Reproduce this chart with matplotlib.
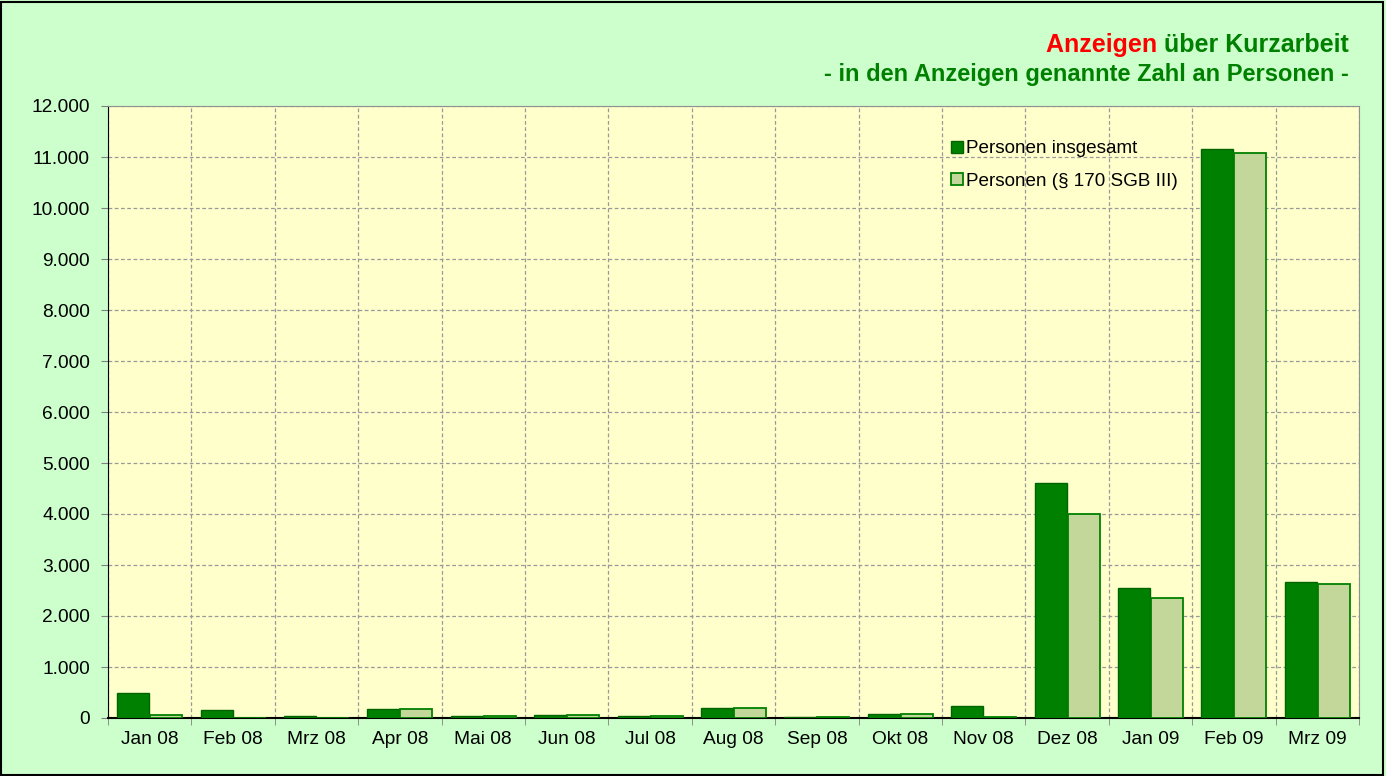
import numpy as np
import matplotlib
matplotlib.use("Agg")
import matplotlib.pyplot as plt
from matplotlib.ticker import FuncFormatter, MultipleLocator
from matplotlib.patches import Rectangle

plt.rcParams["font.family"] = ["Liberation Sans", "DejaVu Sans"]

months = ["Jan 08", "Feb 08", "Mrz 08", "Apr 08", "Mai 08", "Jun 08", "Jul 08", "Aug 08",
          "Sep 08", "Okt 08", "Nov 08", "Dez 08", "Jan 09", "Feb 09", "Mrz 09"]
insgesamt = [490, 160, 40, 180, 40, 60, 35, 200, 20, 80, 240, 4610, 2545, 11155, 2665]
paragraph170 = [60, 8, 5, 180, 40, 60, 35, 200, 20, 75, 25, 4000, 2350, 11080, 2635]

DARK = "#008000"
LIGHT = "#C4D79B"
FIG_BG = "#CCFFCC"
AX_BG = "#FFFFCC"

fig = plt.figure(figsize=(13.86, 7.76), dpi=100, facecolor=FIG_BG)
ax = fig.add_axes([108 / 1386, 1 - 718 / 776, 1251 / 1386, 612 / 776], facecolor=AX_BG)

x = np.arange(len(months))
w = 0.385
ax.bar(x - w / 2 - 0.005, insgesamt, w, color=DARK, edgecolor="#006400", linewidth=1,
       label="Personen insgesamt", zorder=3)
ax.bar(x + w / 2 + 0.005, paragraph170, w, color=LIGHT, edgecolor=DARK, linewidth=1.3,
       label="Personen (§ 170 SGB III)", zorder=3)

ax.set_xlim(-0.5, len(months) - 0.5)
ax.set_ylim(0, 12000)
ax.yaxis.set_major_locator(MultipleLocator(1000))
ax.yaxis.set_major_formatter(FuncFormatter(lambda v, p: f"{int(v):,}".replace(",", ".")))
ax.set_xticks(x)
ax.set_xticklabels(months)
ax.set_xticks(np.arange(-0.5, len(months)), minor=True)
ax.tick_params(axis="x", which="major", length=0, pad=9, labelsize=13.8)
ax.tick_params(axis="x", which="minor", length=5, color="#808080", direction="out")
ax.tick_params(axis="y", length=5, color="#808080", pad=8, labelsize=13.8)

ax.grid(axis="y", which="major", color="#999999", linestyle=(0, (3, 2)), linewidth=0.9, zorder=0)
ax.grid(axis="x", which="minor", color="#999999", linestyle=(0, (3, 2)), linewidth=0.9, zorder=0)

for s in ["top", "right"]:
    ax.spines[s].set_color("#909090")
ax.spines["left"].set_color("black")
ax.spines["bottom"].set_color("black")
ax.spines["bottom"].set_linewidth(1.5)

leg = ax.legend(loc="upper left", bbox_to_anchor=(0.668, 0.956), frameon=False,
                fontsize=13.6, handlelength=0.6, handleheight=0.6, handletextpad=0.2,
                labelspacing=0.82, borderaxespad=0)

# title
fig.text(0.973, 1 - 45 / 776, "über Kurzarbeit", color=DARK, fontsize=18, fontweight="bold",
         ha="right", va="center")
t2 = fig.text(0, 0, "Anzeigen ", color="red", fontsize=18, fontweight="bold", va="center")
fig.canvas.draw()
r = fig.canvas.get_renderer()
bb = fig.texts[0].get_window_extent(r)
bb2 = t2.get_window_extent(r)
t2.set_position(((bb.x0 - bb2.width) / fig.bbox.width, 1 - 45 / 776))
fig.text(0.973, 1 - 74 / 776, "- in den Anzeigen genannte Zahl an Personen -", color=DARK,
         fontsize=17, fontweight="bold", ha="right", va="center")

fig.patches.append(Rectangle((0.001, 0.001), 0.997, 0.997, transform=fig.transFigure,
                             fill=False, edgecolor="black", linewidth=1.5))

fig.savefig("out.png", dpi=100, facecolor=FIG_BG)
